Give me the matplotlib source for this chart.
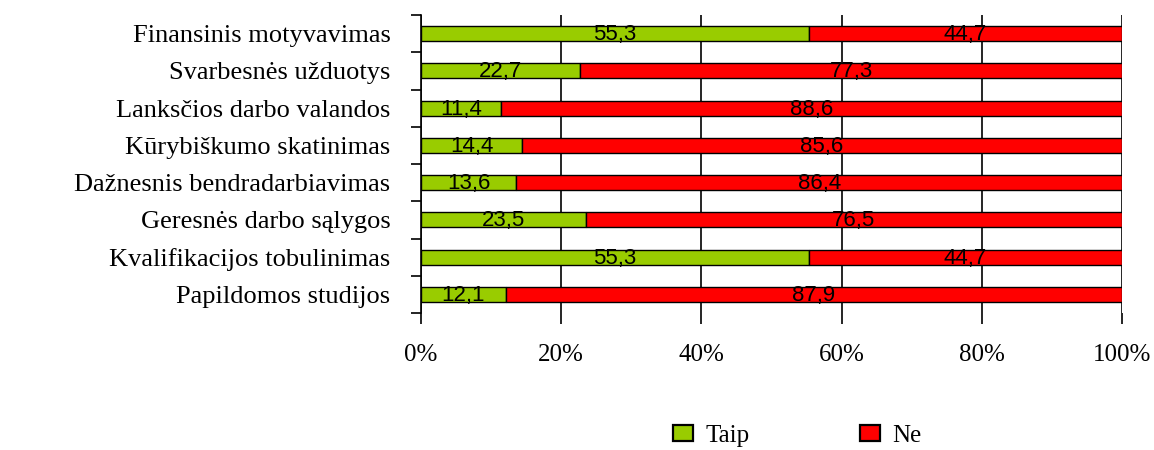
import matplotlib
matplotlib.use("Agg")
import matplotlib.pyplot as plt
import numpy as np

categories = ["Finansinis motyvavimas", "Svarbesnės užduotys", "Lanksčios darbo valandos",
              "Kūrybiškumo skatinimas", "Dažnesnis bendradarbiavimas", "Geresnės darbo sąlygos",
              "Kvalifikacijos tobulinimas", "Papildomos studijos"]
taip = [55.3, 22.7, 11.4, 14.4, 13.6, 23.5, 55.3, 12.1]
ne = [44.7, 77.3, 88.6, 85.6, 86.4, 76.5, 44.7, 87.9]
series_names = ["Taip", "Ne"]
xticks = [0, 20, 40, 60, 80, 100]
xtick_labels = ["0%", "20%", "40%", "60%", "80%", "100%"]

serif = "Liberation Serif"
sans = "Liberation Sans"

fig = plt.figure(figsize=(11.54, 4.5), dpi=100)
ax = fig.add_axes([421/1154, 1-313/450, (1122-421)/1154, (313-15)/450])

n = len(categories)
y = np.arange(n)
h = 0.4
b1 = ax.barh(y, taip, height=h, color="#99CC00", edgecolor="black", linewidth=1, label=series_names[0], zorder=3)
b2 = ax.barh(y, ne, left=taip, height=h, color="#FF0000", edgecolor="black", linewidth=1, label=series_names[1], zorder=3)

for yi, t, nv in zip(y, taip, ne):
    ax.text(t/2, yi + 0.03, f"{t:.1f}".replace(".", ","), ha="center", va="center", fontsize=16, family=sans, zorder=4)
    ax.text(t + nv/2, yi + 0.03, f"{nv:.1f}".replace(".", ","), ha="center", va="center", fontsize=16, family=sans, zorder=4)

ax.set_xlim(0, 100)
ax.set_ylim(n - 0.5, -0.5)
ax.set_xticks(xticks)
ax.set_xticklabels(xtick_labels, family=serif, fontsize=18)
ax.tick_params(axis="x", length=8, width=1.2, direction="out", pad=14.5)
ax.set_yticks(y)
ax.set_yticklabels(categories, family=serif, fontsize=19)
ax.tick_params(axis="y", which="major", length=0, pad=22)
ax.set_yticks(np.arange(-0.5, n, 1), minor=True)
ax.tick_params(axis="y", which="minor", length=7, width=1.2, direction="out")
ax.xaxis.grid(True, color="black", linewidth=1.2, zorder=0)
ax.set_axisbelow(True)
for s in ["top", "right", "bottom"]:
    ax.spines[s].set_visible(False)
ax.spines["left"].set_linewidth(1.2)

fs = 18
em = fs * 100 / 72
leg = fig.legend(handles=[b1, b2], labels=series_names, loc="center left",
                 bbox_to_anchor=(673/1154, 1-436/450), borderaxespad=0, borderpad=0,
                 ncol=2, frameon=False, prop={"family": serif, "size": fs},
                 handlelength=20/em, handleheight=15/em, handletextpad=12/em,
                 columnspacing=111/em)
for p in leg.get_patches():
    p.set_linewidth(1.6)

fig.savefig("out.png", dpi=100)
